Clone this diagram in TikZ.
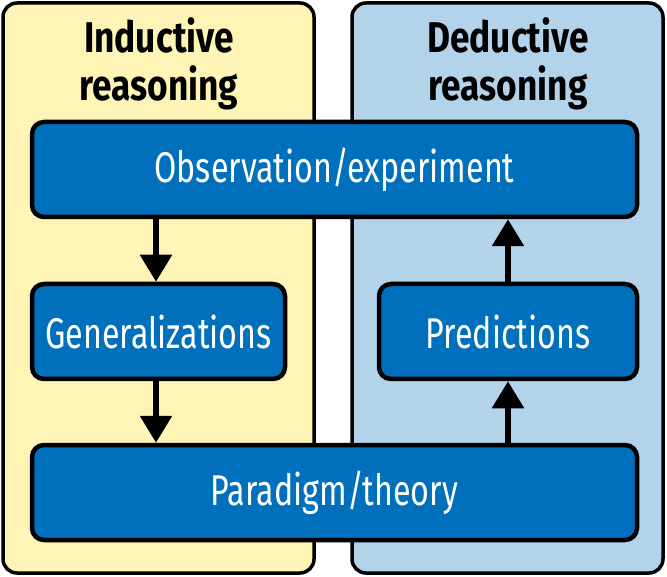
\documentclass[tikz,border=0pt]{standalone}
\usepackage{fontspec}
\setmainfont{Fira Sans}
\newfontfamily\dfont[FakeStretch=0.75]{Fira Sans}
\newfontfamily\tfont[FakeStretch=0.82]{Fira Sans}
\usetikzlibrary{arrows.meta}
\definecolor{panelyellow}{HTML}{FEF4B5}
\definecolor{panelblue}{HTML}{B3D3EA}
\definecolor{boxblue}{HTML}{0070BC}
\tikzset{
  panel/.style={draw=black, line width=3.5pt, rounded corners=14pt, inner sep=0pt, minimum width=311pt, minimum height=570pt},
  stepbox/.style={draw=black, fill=boxblue, line width=4.5pt, rounded corners=12pt, inner sep=0pt, minimum height=95pt, text=white, font=\dfont\fontsize{43}{48}\selectfont},
  title/.style={align=center, text=black, font=\tfont\bfseries\fontsize{43}{48}\selectfont, anchor=base},
  flow/.style={line width=5.5pt, -{Triangle[width=31pt,length=27pt]}}
}
\begin{document}
\begin{tikzpicture}[x=1pt,y=-1pt]
\useasboundingbox (0,0) rectangle (667,577);
\node[panel, fill=panelyellow] (lp) at (158.5,288) {};
\node[panel, fill=panelblue] (rp) at (507.5,288) {};
\node[title] (lt) at (159,101) {Inductive\\reasoning};
\node[title] (rt) at (508,101) {Deductive\\reasoning};
\node[stepbox, minimum width=605pt] (obs) at (334.5,169.5) {Observation/experiment};
\node[stepbox, minimum width=253pt] (gen) at (158.5,331.5) {Generalizations};
\node[stepbox, minimum width=258pt] (pred) at (508,331.5) {Predictions};
\node[stepbox, minimum width=605pt] (par) at (334.5,492.5) {Paradigm/theory};
\draw[flow] (obs.south -| 156,0) -- (gen.north -| 156,0);
\draw[flow] (gen.south -| 156,0) -- (par.north -| 156,0);
\draw[flow] (par.north -| pred) -- (pred.south);
\draw[flow] (pred.north) -- (obs.south -| pred);
\end{tikzpicture}
\end{document}
